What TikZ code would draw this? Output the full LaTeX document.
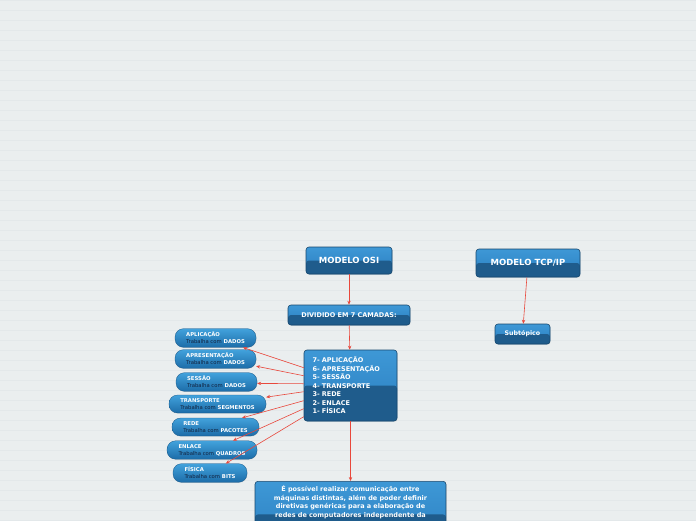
\documentclass[tikz,border=0pt]{standalone}
\usepackage{fontspec}
\setmainfont{DejaVu Sans}
\usetikzlibrary{arrows.meta,shadows}
\definecolor{bgPaper}{RGB}{234,238,239}
\definecolor{bgLine}{RGB}{227,232,234}
\definecolor{boxTop}{RGB}{62,152,214}
\definecolor{boxMid}{RGB}{42,126,192}
\definecolor{boxDark}{RGB}{31,92,140}
\definecolor{boxEdge}{RGB}{24,72,110}
\definecolor{pillTop}{RGB}{66,162,220}
\definecolor{pillBot}{RGB}{28,108,168}
\definecolor{txtNavy}{RGB}{18,36,64}
\definecolor{arrRed}{RGB}{232,72,60}
\newcommand{\trab}[1]{{\mdseries\color{txtNavy}Trabalha com} #1}

\begin{document}
\begin{tikzpicture}[
  x=1pt, y=-1pt,
  topic/.style={draw=boxEdge, line width=0.6pt, rounded corners=3pt, top color=boxTop, bottom color=boxMid, text=white, align=center,
    path picture={\fill[boxDark] (path picture bounding box.west) rectangle (path picture bounding box.south east);},
    drop shadow={opacity=0.2, shadow xshift=0.6pt, shadow yshift=-0.8pt}},
  pill/.style={draw=pillBot!80!black, line width=0.3pt, rounded corners=8.5pt, top color=pillTop, bottom color=pillBot, text=white, align=left,
    minimum height=18pt, inner xsep=8pt, font=\fontsize{5.3}{7}\selectfont\bfseries,
    drop shadow={opacity=0.15, shadow xshift=0.5pt, shadow yshift=-0.6pt}},
  arr/.style={-{Stealth[length=4pt,width=3.4pt]}, line width=0.6pt, arrRed}
]
  % paper
  \fill[bgPaper] (0,0) rectangle (696,520);
  \clip (0,0) rectangle (696,520);
  \foreach \y in {0,10,...,520}
    \draw[bgLine, line width=0.5pt] (0,\y) -- (696,\y);

  % main topics
  \node[topic, minimum width=86pt, minimum height=27pt, font=\fontsize{8.5}{10}\selectfont\bfseries] (osi) at (349,260.5) {MODELO OSI};
  \node[topic, minimum width=104pt, minimum height=28pt, font=\fontsize{8.5}{10}\selectfont\bfseries] (tcp) at (528,263) {MODELO TCP/IP};
  \node[topic, minimum width=55pt, minimum height=20pt, font=\fontsize{6.3}{8}\selectfont\bfseries] (sub) at (522.5,334) {Subtópico};

  % osi branch
  \node[topic, minimum width=122pt, minimum height=20pt, font=\fontsize{6.5}{8}\selectfont\bfseries] (div) at (349,315) {DIVIDIDO EM 7 CAMADAS:};
  \node[topic, minimum width=93pt, minimum height=71pt, text width=76pt, inner xsep=8.5pt, align=left,
        font=\fontsize{6.5}{8.5}\selectfont\bfseries] (layers) at (350.5,385.5)
    {7- APLICAÇÃO\\6- APRESENTAÇÃO\\5- SESSÃO\\4- TRANSPORTE\\3- REDE\\2- ENLACE\\1- FÍSICA};
  \node[topic, anchor=north, minimum width=191pt, minimum height=66pt, text width=181pt, inner ysep=4pt,
        font=\fontsize{6.5}{8.7}\selectfont\bfseries] (note) at (350.5,481)
    {É possível realizar comunicação entre\\máquinas distintas, além de poder definir\\diretivas genéricas para a elaboração de\\redes de computadores independente da\\~\\~\\~};

  % layers (left column)
  \node[pill, minimum width=81pt] (apl)  at (215.5,338) {APLICAÇÃO\\\trab{DADOS}};
  \node[pill, minimum width=81pt] (apr)  at (215.5,359) {APRESENTAÇÃO\\\trab{DADOS}};
  \node[pill, minimum width=81pt] (ses)  at (216.5,382) {SESSÃO\\\trab{DADOS}};
  \node[pill, minimum width=97pt] (tra)  at (217.5,404) {TRANSPORTE\\\trab{SEGMENTOS}};
  \node[pill, minimum width=87pt] (red)  at (215.5,427) {REDE\\\trab{PACOTES}};
  \node[pill, minimum width=90pt] (enl)  at (212,450)   {ENLACE\\\trab{QUADROS}};
  \node[pill, minimum width=74pt] (fis)  at (210,473)   {FÍSICA\\\trab{BITS}};

  \draw[arr] (osi) -- (div);
  \draw[arr] (div) -- (layers);
  \draw[arr] (layers) -- (note);
  \draw[arr] (tcp) -- (sub);

  \draw[arr] ([yshift=-18pt]layers.north west) -- (apl.-19);
  \draw[arr] ([yshift=-26pt]layers.north west) -- (apr.-10);
  \draw[arr] ([yshift=-34pt]layers.north west) -- (ses.-2);
  \draw[arr] ([yshift=-42pt]layers.north west) -- (tra.8);
  \draw[arr] ([yshift=-51pt]layers.north west) -- (red.19);
  \draw[arr] ([yshift=-59pt]layers.north west) -- (enl.24);
  \draw[arr] ([yshift=-67pt]layers.north west) -- (fis.31);
\end{tikzpicture}
\end{document}
